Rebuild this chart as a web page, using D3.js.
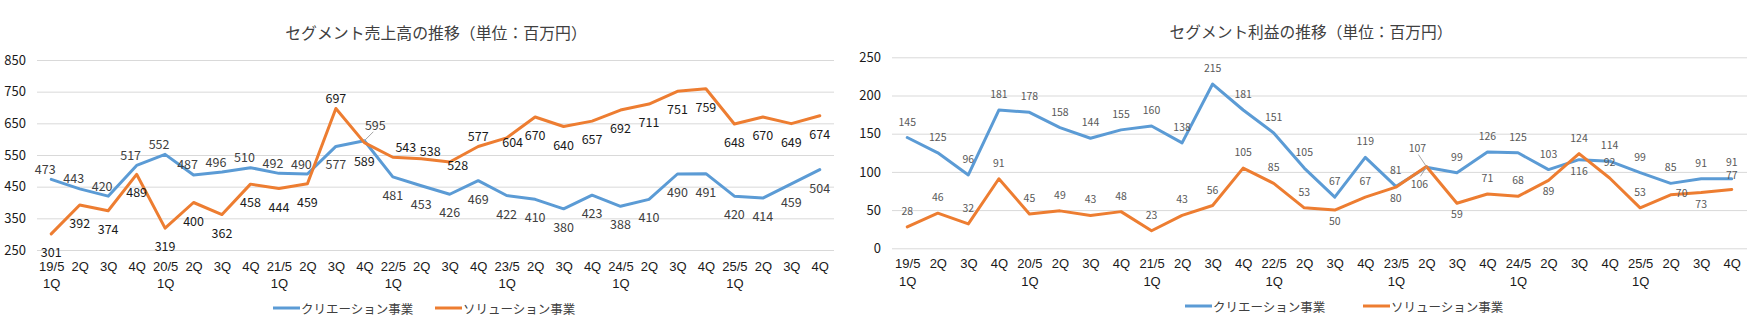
<!DOCTYPE html>
<html>
<head>
<meta charset="utf-8">
<script src="https://cdn.jsdelivr.net/npm/d3@7"></script>
<style>
  html, body { margin: 0; padding: 0; background: #fff; }
  svg { display: block; font-family: "Noto Sans CJK JP", "Noto Sans", sans-serif; }
</style>
</head>
<body>
<svg id="chart" width="1759" height="325"></svg>
<script>
// ---------- DATA ----------
const periods = [
  "19/5 1Q","19/5 2Q","19/5 3Q","19/5 4Q",
  "20/5 1Q","20/5 2Q","20/5 3Q","20/5 4Q",
  "21/5 1Q","21/5 2Q","21/5 3Q","21/5 4Q",
  "22/5 1Q","22/5 2Q","22/5 3Q","22/5 4Q",
  "23/5 1Q","23/5 2Q","23/5 3Q","23/5 4Q",
  "24/5 1Q","24/5 2Q","24/5 3Q","24/5 4Q",
  "25/5 1Q","25/5 2Q","25/5 3Q","25/5 4Q"
];
const tickLine1 = ["19/5","2Q","3Q","4Q","20/5","2Q","3Q","4Q","21/5","2Q","3Q","4Q","22/5","2Q","3Q","4Q","23/5","2Q","3Q","4Q","24/5","2Q","3Q","4Q","25/5","2Q","3Q","4Q"];
const tickLine2 = ["1Q","","","","1Q","","","","1Q","","","","1Q","","","","1Q","","","","1Q","","","","1Q","","",""];

const seriesNames = ["クリエーション事業", "ソリューション事業"];

const salesCreation = [473,443,420,517,552,487,496,510,492,490,577,595,481,453,426,469,422,410,380,423,388,410,490,491,420,414,459,504];
const salesSolution = [301,392,374,489,319,400,362,458,444,459,697,589,543,538,528,577,604,670,640,657,692,711,751,759,648,670,649,674];
const salesTicks = [250,350,450,550,650,750,850];

const profitCreation = [145,125,96,181,178,158,144,155,160,138,215,181,151,105,67,119,81,106,99,126,125,103,116,114,99,85,91,91];
const profitSolution = [28,46,32,91,45,49,43,48,23,43,56,105,85,53,50,67,80,107,59,71,68,89,124,92,53,70,73,77];
const profitTicks = [0,50,100,150,200,250];

const salesTitle = "セグメント売上高の推移（単位：百万円）";
const profitTitle = "セグメント利益の推移（単位：百万円）";

// ---------- LABEL PLACEMENT (style, not data) ----------
// a = above, b = below, _ = custom nudge
const salesCreationPlace = "aaaaaaaaaab_bbbbbbbbbbbbbbbb".split("");
const salesSolutionPlace = "bbbbbbbbbbabaabaabbbbbbbbbbb".split("");
const salesCreationNudge = {11: [11, -16, true]};
const salesSolutionNudge = {12: [13, -11], 13: [9, -8], 14: [8, 3], 16: [6, 4]};
const profitCreationPlace = "aaaaaaaaaaaaaaaaa_aaaabaaaaa".split("");
const profitSolutionPlace = "aaaaaaaaaaaaaababb_aabaaaaba".split("");
const profitCreationNudge = {17: [-7, 16, true], 27: [0, -17.5]};
const profitSolutionNudge = {17: [-9, -19, true], 25: [11, -2], 27: [0, -15]};

const COLORS = ["#5B9BD5", "#ED7D31"];

const svg = d3.select("#chart");
svg.append("rect").attr("width", 1759).attr("height", 325).attr("fill", "#fff");

function drawChart(cfg) {
  const g = svg.append("g");
  const x = d3.scalePoint().domain(periods).range([cfg.x0, cfg.x1]).padding(0.5);
  const y = d3.scaleLinear().domain(cfg.domain).range([cfg.yBot, cfg.yTop]);

  // title, sized to match target width
  const title = g.append("text").attr("x", cfg.titleX).attr("y", cfg.titleY)
    .attr("text-anchor", "middle").attr("font-size", 16).attr("fill", "#404040")
    .text(cfg.title);
  const w = title.node().getComputedTextLength();
  if (w > 0) title.attr("font-size", Math.min(17, 16 * cfg.titleWidth / w));

  // y axis with gridlines
  const ya = g.append("g").attr("transform", `translate(${cfg.x0},0)`)
    .call(d3.axisLeft(y).tickValues(cfg.ticks).tickSize(-(cfg.x1 - cfg.x0)).tickPadding(11).tickFormat(d3.format("d")));
  ya.select(".domain").remove();
  ya.selectAll(".tick line").attr("stroke", "#D9D9D9").attr("stroke-width", 1);
  ya.selectAll(".tick text").attr("font-size", 13).attr("fill", "#1a1a1a")
    .attr("font-family", "'Noto Sans CJK JP', sans-serif");

  // x axis labels (two lines)
  const xa = g.append("g").attr("transform", `translate(0,${cfg.yBot})`)
    .call(d3.axisBottom(x).tickSize(0).tickFormat(() => ""));
  xa.select(".domain").remove();
  xa.selectAll(".tick").each(function(d, i) {
    const t = d3.select(this);
    t.select("text").remove();
    t.append("text").attr("y", cfg.xLab1 - cfg.yBot).attr("text-anchor", "middle")
      .attr("font-size", 13).attr("fill", "#1a1a1a").text(tickLine1[i]);
    if (tickLine2[i]) {
      t.append("text").attr("y", cfg.xLab2 - cfg.yBot).attr("text-anchor", "middle")
        .attr("font-size", 13).attr("fill", "#1a1a1a").text(tickLine2[i]);
    }
  });

  const line = d3.line().x((d, i) => x(periods[i])).y(d => y(d));

  cfg.series.forEach((s, si) => {
    g.append("path").datum(s.values)
      .attr("d", line).attr("fill", "none").attr("stroke", COLORS[si])
      .attr("stroke-width", 3).attr("stroke-linejoin", "round").attr("stroke-linecap", "round");
  });

  // data labels
  cfg.series.forEach((s, si) => {
    s.values.forEach((v, i) => {
      const px = x(periods[i]), py = y(v);
      let dx, dy, leader = false;
      if (s.nudge[i]) {
        [dx, dy, leader] = s.nudge[i];
      } else if (s.place[i] === "a") {
        dx = s.aboveDx || 0; dy = cfg.offA;
      } else {
        dx = 0; dy = cfg.offB;
      }
      if (leader) {
        const lx = px + dx, ly = py + dy;
        const ex = lx + (dx > 0 ? -2 : 1), ey = ly + (dy < 0 ? 7 : -7);
        g.append("line").attr("x1", px).attr("y1", py).attr("x2", ex).attr("y2", ey)
          .attr("stroke", "#A6A6A6").attr("stroke-width", 1);
      }
      g.append("text").attr("x", px + dx).attr("y", py + dy)
        .attr("text-anchor", "middle").attr("dominant-baseline", "central")
        .attr("font-size", cfg.labelFont).attr("fill", s.labelColor)
        .text(v);
    });
  });

  // legend
  cfg.series.forEach((s, si) => {
    const lx = cfg.legendX[si];
    g.append("line").attr("x1", lx).attr("x2", lx + 27).attr("y1", cfg.legendY).attr("y2", cfg.legendY)
      .attr("stroke", COLORS[si]).attr("stroke-width", 3);
    g.append("text").attr("x", lx + 28).attr("y", cfg.legendY).attr("dominant-baseline", "central")
      .attr("font-size", 12.5).attr("fill", "#404040").text(seriesNames[si]);
  });
}

drawChart({
  title: salesTitle, titleX: 436, titleY: 39, titleWidth: 302,
  x0: 37, x1: 834, yTop: 60, yBot: 250, domain: [250, 850], ticks: salesTicks,
  xLab1: 271, xLab2: 288, legendY: 308, legendX: [273, 435],
  labelFont: 12.5, offA: -11, offB: 17.5,
  series: [
    {values: salesCreation, place: salesCreationPlace, nudge: salesCreationNudge, labelColor: "#404040", aboveDx: -6},
    {values: salesSolution, place: salesSolutionPlace, nudge: salesSolutionNudge, labelColor: "#1a1a1a"}
  ]
});

drawChart({
  title: profitTitle, titleX: 1311, titleY: 38, titleWidth: 283,
  x0: 892, x1: 1747, yTop: 57.3, yBot: 248.3, domain: [0, 250], ticks: profitTicks,
  xLab1: 268, xLab2: 286, legendY: 306, legendX: [1185, 1363],
  labelFont: 10.5, offA: -16.5, offB: 10.5,
  series: [
    {values: profitCreation, place: profitCreationPlace, nudge: profitCreationNudge, labelColor: "#595959"},
    {values: profitSolution, place: profitSolutionPlace, nudge: profitSolutionNudge, labelColor: "#595959"}
  ]
});
</script>
</body>
</html>
